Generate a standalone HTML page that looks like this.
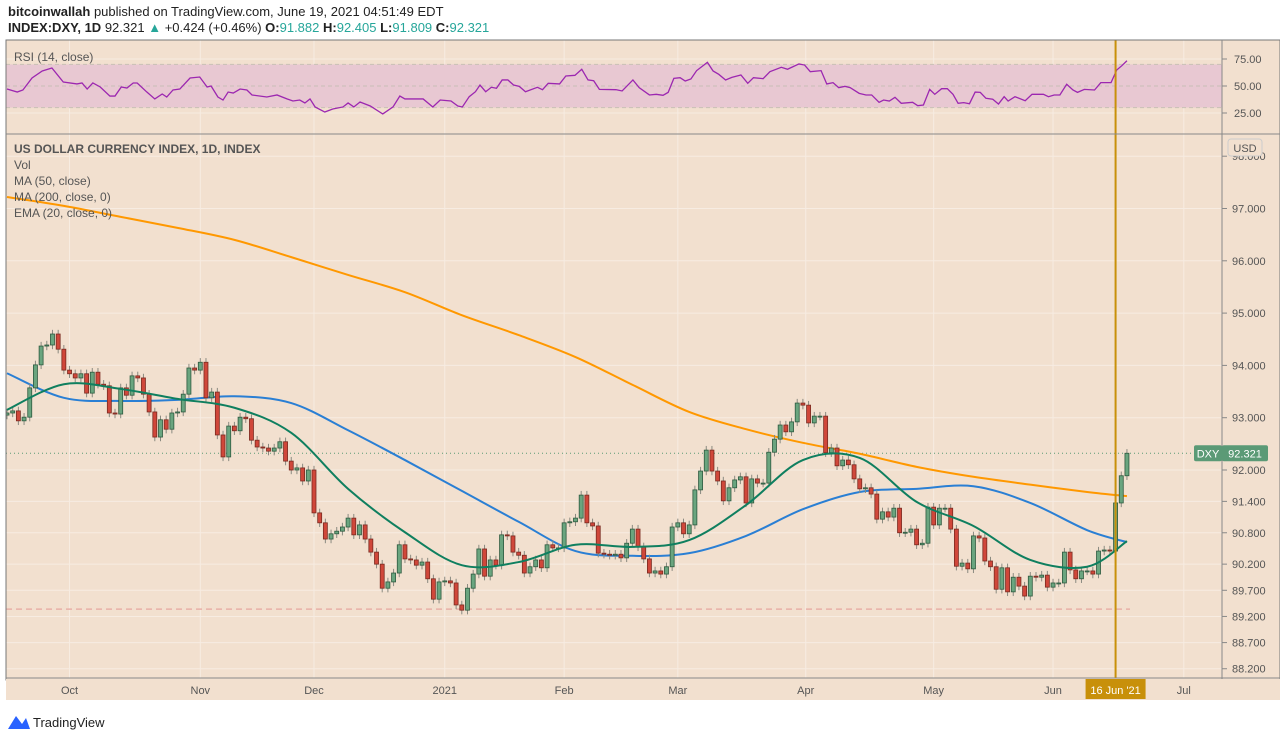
<!DOCTYPE html>
<html><head><meta charset="utf-8"><style>
body{margin:0;background:#fff;width:1280px;height:740px;overflow:hidden;font-family:"Liberation Sans",sans-serif}
svg{position:absolute;left:0;top:0}
</style></head><body>
<svg id="c" width="1280" height="740" xmlns="http://www.w3.org/2000/svg"></svg>
<script>
const closes=[93.09,93.13,92.94,93.01,93.57,94.01,94.37,94.39,94.60,94.31,
93.91,93.84,93.76,93.84,93.47,93.87,93.64,93.61,93.09,93.07,
93.57,93.43,93.80,93.76,93.45,93.11,92.63,92.96,92.78,93.09,
93.11,93.45,93.95,93.91,94.06,93.38,93.49,92.67,92.25,92.84,
92.75,93.01,92.98,92.57,92.44,92.42,92.36,92.42,92.54,92.17,
92.00,92.04,91.79,92.00,91.18,90.99,90.68,90.78,90.83,90.91,
91.08,90.76,90.95,90.68,90.43,90.20,89.74,89.86,90.03,90.57,
90.30,90.28,90.18,90.24,89.92,89.53,89.86,89.88,89.84,89.42,
89.32,89.74,90.01,90.49,89.97,90.28,90.18,90.76,90.74,90.43,
90.37,90.03,90.15,90.28,90.13,90.57,90.51,90.51,90.99,91.01,
91.08,91.52,90.99,90.93,90.41,90.39,90.37,90.39,90.32,90.60,
90.87,90.53,90.30,90.03,90.07,90.01,90.15,90.91,90.99,90.78,
90.95,91.62,91.98,92.38,91.98,91.79,91.41,91.66,91.81,91.87,
91.37,91.83,91.75,91.75,92.34,92.59,92.86,92.73,92.92,93.28,
93.24,92.90,93.03,93.03,92.33,92.42,92.08,92.19,92.10,91.83,
91.64,91.66,91.54,91.06,91.20,91.10,91.27,90.80,90.81,90.87,
90.57,90.60,91.29,90.95,91.27,91.27,90.87,90.16,90.22,90.11,
90.74,90.70,90.26,90.15,89.72,90.13,89.67,89.95,89.78,89.59,
89.97,89.95,89.99,89.76,89.84,89.84,90.43,90.09,89.92,90.07,
90.07,90.01,90.45,90.47,90.45,91.37,91.89,92.32];
const firstOpen=93.05;
const maIdx=[0,10,20,30,40,50,60,70,80,90,100,110,120,130,140,150,160,170,180,190,197];
const ma200=[97.22,97.05,96.84,96.63,96.40,96.07,95.73,95.40,94.96,94.58,94.16,93.63,93.11,92.78,92.52,92.31,92.06,91.87,91.72,91.58,91.50];
const ma50=[93.85,93.38,93.32,93.34,93.41,93.28,92.76,92.19,91.60,91.01,90.45,90.36,90.41,90.74,91.25,91.58,91.64,91.69,91.37,90.85,90.62];
const ema20=[93.15,93.64,93.55,93.36,93.19,92.71,91.64,90.81,90.18,90.24,90.57,90.53,90.66,91.33,92.19,92.23,91.39,90.93,90.28,90.15,90.64];
const rsiIdx=[0,1.8,2.8,4.4,6.2,7.9,9.9,12.3,13.2,14.1,15.1,16.4,18.1,19,20.1,21.1,22.2,22.9,24.6,26,27.3,28.1,29.2,30.4,32.2,33.9,35.2,35.9,37.1,38,38.9,39.8,41,42.2,43.1,45.7,47.5,49.3,50.3,51.5,52.4,53.3,54.2,55.9,57.3,59.1,60,61,62.1,63.9,66.1,67.9,69.1,70,72.1,73.2,74.9,76.2,78.1,79.3,80.1,81.3,82.4,83.2,84.2,85.2,86.1,87.1,88.1,89.1,90.1,91.2,93.3,94.2,95.2,97.2,98.3,99.9,101.1,102.2,103.2,104.2,107.1,108.2,110.1,111.2,113,114.2,115.4,116.3,117.3,118.4,119.3,120.3,121.3,123.2,124.2,125.2,126.4,127.5,129.1,130.3,131.3,133,134.2,136.2,137.3,139.3,140.3,141.3,143.2,144.2,145.3,146.3,147.4,148.3,149.9,151.1,152.1,153.4,154.2,155.2,156.2,157.3,159.3,160.2,161.2,162.3,163.2,164.4,165.4,166.4,167.3,168.3,169.3,170.3,171.2,172.2,173.4,174.4,175.4,176.1,177.3,179.1,180.3,182.3,183.2,184.2,185.2,186.4,187.5,188.3,189.5,191.3,192.4,194.2,195.2,196.1,197];
const rsiVal=[47.2,44.4,46.3,57.4,63.9,66.7,53.7,51.9,52.8,47.2,52.8,49.1,40.7,40.7,49.1,48.1,52.8,52.8,44.4,38,42.6,39.8,46.3,47.2,57.4,58.3,49.1,50,39.8,37,44.4,43.5,47.2,46.3,41.7,39.8,41.7,38,36.1,37,34.3,38,30.6,25.9,28.7,30.6,34.3,30.6,35.2,31.5,24.1,30.6,40.7,38,38,38,30.6,37,36.1,31.5,30.6,40.1,44.7,50.9,44.7,48.8,47.9,55.6,55.6,50.9,49.7,44.7,48.8,46.6,52.5,51.9,59.3,59.9,65.5,55.6,54.9,46.9,46.6,45.4,55.6,48.5,41.7,42.3,41.4,44.1,57.1,57.7,54.6,56.5,64.2,71.9,63.9,60.8,55.6,58,60.2,52.5,57.7,56.8,63.3,67.3,65.5,70.4,69.4,63.3,64.2,51.9,53.1,48.5,49.7,48.5,43.2,41.7,41.7,34.9,37,36.1,39.5,34,34.9,31.8,32.4,46.9,42.3,47.5,47.5,42.3,34,34.6,33.6,44.4,44.1,38.6,37.7,33.3,40.1,36.1,40.1,36.4,42.3,42.3,40.1,41.7,41.7,51.6,46.3,44.1,46.9,46.3,53.1,53.1,64.8,68.8,73.4];
const priceTicks=[98,97,96,95,94,93,92,91.4,90.8,90.2,89.7,89.2,88.7,88.2];
const priceTickLabels=["98.000","97.000","96.000","95.000","94.000","93.000","92.000","91.400","90.800","90.200","89.700","89.200","88.700","88.200"];
const rsiTicks=[75,50,25];
const monthIdx=[11,34,54,77,98,118,140.5,163,184,207];
const monthLabels=["Oct","Nov","Dec","2021","Feb","Mar","Apr","May","Jun","Jul"];
const markerIdx=195;
const supportLevel=89.34;

const NS="http://www.w3.org/2000/svg";
const svg=document.getElementById('c');
const X=i=>7+i*5.685;
const Y=v=>470-(v-92)*52.3;
const RY=r=>86-(r-50)*1.08;
function mk(tag,at,parent){const e=document.createElementNS(NS,tag);for(const k in at)e.setAttribute(k,at[k]);(parent||svg).appendChild(e);return e;}
function tx(s,x,y,at,parent){const e=mk('text',Object.assign({x:x,y:y,'font-family':'Liberation Sans, sans-serif','font-size':12,fill:'#555'},at),parent);e.textContent=s;return e;}
function smooth(pts){let d='M'+pts[0][0]+','+pts[0][1];for(let k=0;k<pts.length-1;k++){const p0=pts[k-1]||pts[k],p1=pts[k],p2=pts[k+1],p3=pts[k+2]||p2;
const c1=[p1[0]+(p2[0]-p0[0])/6,p1[1]+(p2[1]-p0[1])/6],c2=[p2[0]-(p3[0]-p1[0])/6,p2[1]-(p3[1]-p1[1])/6];
d+=' C'+c1[0]+','+c1[1]+' '+c2[0]+','+c2[1]+' '+p2[0]+','+p2[1];}return d;}

let e=mk('rect',{x:6,y:40,width:1274,height:640,fill:'#f2e0cf'});


const defs=mk('defs',{});
const cp=mk('clipPath',{id:'pc'},defs);mk('rect',{x:6,y:134,width:1216,height:544},cp);
const cr=mk('clipPath',{id:'rc'},defs);mk('rect',{x:6,y:40,width:1216,height:94},cr);

const grid=mk('g',{stroke:'#f7ece2','stroke-width':1});


priceTicks.forEach(v=>mk('line',{x1:6,x2:1222,y1:Y(v),y2:Y(v)},grid));
monthIdx.forEach(i=>mk('line',{x1:X(i),x2:X(i),y1:40,y2:678},grid));
mk('line',{x1:6,x2:1222,y1:RY(75),y2:RY(75)},grid);mk('line',{x1:6,x2:1222,y1:RY(25),y2:RY(25)},grid);

const rg=mk('g',{'clip-path':'url(#rc)'});


e=mk('rect',{x:6,y:RY(70),width:1216,height:RY(30)-RY(70),fill:'#e8c8d2'},rg);


[70,50,30].forEach(r=>mk('line',{x1:6,x2:1222,y1:RY(r),y2:RY(r),stroke:'#bba','stroke-width':1,'stroke-dasharray':'4 3','opacity':0.7},rg));
e=mk('polyline',{points:rsiIdx.map((i,k)=>X(i)+','+RY(rsiVal[k])).join(' '),fill:'none',stroke:'#9c27b0','stroke-width':1.3},rg);



const pg=mk('g',{'clip-path':'url(#pc)'});
e=mk('line',{x1:6,x2:1130,y1:Y(supportLevel),y2:Y(supportLevel),stroke:'#e8b0a8','stroke-width':1.5,'stroke-dasharray':'6 4'},pg);


e=mk('line',{x1:6,x2:1222,y1:Y(closes[closes.length-1]),y2:Y(closes[closes.length-1]),stroke:'#5b9a76','stroke-width':1,'stroke-dasharray':'1 3'},pg);


function line(arr,col,name){const p=mk('path',{d:smooth(maIdx.map((i,k)=>[X(i),Y(arr[k])])),fill:'none',stroke:col,'stroke-width':2,'stroke-linejoin':'round'},pg);}
line(ma200,'#ff9800','ma200-line');
line(ma50,'#2a7fd4','ma50-line');
const cg=mk('g',{},pg);


closes.forEach((c,i)=>{
  const o=i?closes[i-1]:firstOpen;const up=c>=o;
  const hi=Math.max(o,c)+0.08,lo=Math.min(o,c)-0.08;
  const x=X(i);
  mk('line',{x1:x,x2:x,y1:Y(hi),y2:Y(lo),stroke:'#8a8a80','stroke-width':1},cg);
  const t=Y(Math.max(o,c)),b=Y(Math.min(o,c));
  const r=mk('rect',{x:x-2,y:t,width:4,height:Math.max(1,b-t),fill:up?'#6aa57f':'#d0473a',stroke:up?'#2d5a3f':'#7a2a20','stroke-width':0.8},cg);
  
  
});
line(ema20,'#0f7f5f','ema20-line');

e=mk('line',{x1:X(markerIdx),x2:X(markerIdx),y1:40,y2:678,stroke:'#c8900a','stroke-width':2});



mk('rect',{x:6,y:40,width:1274,height:640,fill:'none',stroke:'#777','stroke-width':1});
mk('line',{x1:6,x2:1280,y1:134,y2:134,stroke:'#888'});
mk('line',{x1:1222,x2:1222,y1:40,y2:700,stroke:'#888'});
mk('line',{x1:6,x2:1280,y1:678,y2:678,stroke:'#888'});
mk('rect',{x:0,y:700,width:1280,height:40,fill:'#fff'});
mk('rect',{x:6,y:679,width:1274,height:21,fill:'#f2e0cf'});

priceTicks.forEach((v,k)=>{mk('line',{x1:1222,x2:1227,y1:Y(v),y2:Y(v),stroke:'#888'});e=tx(priceTickLabels[k],1232,Y(v)+4,{'font-size':11});});
rsiTicks.forEach(r=>{mk('line',{x1:1222,x2:1227,y1:RY(r),y2:RY(r),stroke:'#888'});e=tx(r.toFixed(2),1234,RY(r)+4,{'font-size':11});});
monthIdx.forEach((i,k)=>{e=tx(monthLabels[k],X(i),694,{'font-size':11,'text-anchor':'middle'});});
mk('rect',{x:1228,y:139,width:34,height:17,rx:3,fill:'#f2e0cf',stroke:'#ccc'});
e=tx('USD',1245,152,{'font-size':11,'text-anchor':'middle'});
const lp=Y(closes[closes.length-1]);
e=mk('rect',{x:1194,y:lp-8,width:28,height:16,rx:2,fill:'#5b9a76'});
tx('DXY',1208,lp+4,{'font-size':11,fill:'#fff','text-anchor':'middle'});
mk('rect',{x:1222,y:lp-8,width:46,height:16,rx:2,fill:'#5b9a76'});
e=tx(closes[closes.length-1].toFixed(3).replace('92.320','92.321'),1245,lp+4,{'font-size':11,fill:'#fff','text-anchor':'middle'});
e=mk('rect',{x:X(markerIdx)-30,y:679,width:60,height:20,fill:'#c8900a'});
tx("16 Jun '21",X(markerIdx),694,{'font-size':11,fill:'#fff','text-anchor':'middle'});

e=tx('RSI (14, close)',14,61,{});
const leg=[['US DOLLAR CURRENCY INDEX, 1D, INDEX',153,true],['Vol',169],['MA (50, close)',185],['MA (200, close, 0)',201],['EMA (20, close, 0)',217]];
leg.forEach(l=>{e=tx(l[0],14,l[1],l[2]?{'font-weight':'bold'}:{});});

e=tx('',8,16,{'font-size':13,fill:'#222'});e.innerHTML='<tspan font-weight="bold">bitcoinwallah</tspan> published on TradingView.com, June 19, 2021 04:51:49 EDT';

e=tx('',8,32,{'font-size':13,fill:'#222'});e.innerHTML='<tspan font-weight="bold">INDEX:DXY, 1D</tspan> 92.321 <tspan fill="#26a69a">▲</tspan> +0.424 (+0.46%) <tspan font-weight="bold">O:</tspan><tspan fill="#26a69a">91.882</tspan> <tspan font-weight="bold">H:</tspan><tspan fill="#26a69a">92.405</tspan> <tspan font-weight="bold">L:</tspan><tspan fill="#26a69a">91.809</tspan> <tspan font-weight="bold">C:</tspan><tspan fill="#26a69a">92.321</tspan>';

e=mk('path',{d:'M8 729 L16 716 L22 724 L26 718 L30 729 Z',fill:'#2962ff'});
e=tx('TradingView',33,727,{'font-size':13,fill:'#222'});
</script>
</body></html>
